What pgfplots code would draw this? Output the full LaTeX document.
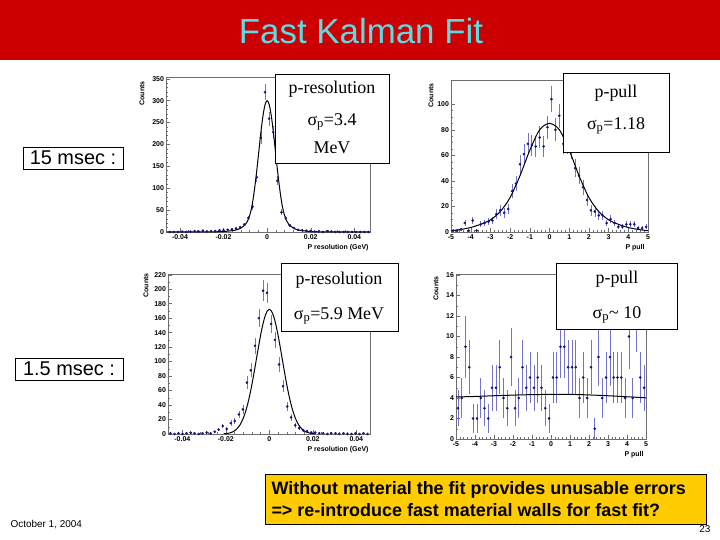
\documentclass[border=0pt]{standalone}
\usepackage{pgfplots}
\usepackage{pgfplotstable}
\pgfplotsset{compat=1.18}
\usepackage{fontspec}
\setmainfont{Liberation Serif}
\setsansfont{Liberation Sans}
\newfontfamily\arial{Liberation Sans}
\definecolor{titlered}{RGB}{204,0,0}
\definecolor{titlecyan}{RGB}{90,220,228}
\definecolor{boxyellow}{RGB}{255,204,0}
\definecolor{ptnavy}{RGB}{20,20,120}
\definecolor{errblue}{RGB}{115,115,205}
\definecolor{framegray}{RGB}{110,110,110}

\pgfplotsset{
 rootstyle/.style={
  scale only axis,
  axis line style={framegray, line width=0.6bp},
  tick style={framegray, line width=0.4bp},
  tick align=inside, major tick length=4bp, minor tick length=2bp,
  xtick pos=bottom, ytick pos=left,
  ticklabel style={font=\arial\bfseries\fontsize{7}{8}\selectfont, text=black},
  xticklabel style={yshift=1.2bp},
  yticklabel style={xshift=1.5bp},
  /pgf/number format/assume math mode=true,
  scaled x ticks=false, scaled y ticks=false,
  clip=false,
 },
 datastyle/.style={only marks, mark=*, mark size=1.1bp, color=ptnavy,
   error bars/.cd, y dir=both, y explicit,
   error bar style={errblue, line width=0.6bp}, error mark=none},
 fitstyle/.style={black, line width=1bp, no marks, smooth},
}

\pgfplotstableread{
x y
-0.0447 0
-0.0428 0
-0.0409 0
-0.0390 1
-0.0371 0
-0.0352 1
-0.0333 2
-0.0314 1
-0.0295 3
-0.0276 1
-0.0257 2
-0.0238 2
-0.0219 4
-0.0200 4
-0.0181 5
-0.0162 6
-0.0143 8
-0.0124 11
-0.0105 17
-0.0086 32
-0.0067 58
-0.0048 125
-0.0029 215
-0.0010 319
0.0009 259
0.0028 228
0.0047 117
0.0066 45
0.0085 32
0.0104 15
0.0123 9
0.0142 5
0.0161 4
0.0180 3
0.0199 2
0.0218 1
0.0237 1
0.0256 0
0.0275 2
0.0294 1
0.0313 0
0.0332 0
0.0351 0
0.0370 0
0.0389 0
0.0408 0
0.0427 0
0.0446 0
0.0465 0
}\resA

\pgfplotstableread{
x y
-0.046 0
-0.030 0.1
-0.025 0.3
-0.020 1
-0.018 2
-0.016 3
-0.014 5
-0.012 9
-0.010 17
-0.009 25
-0.008 38
-0.007 58
-0.006 90
-0.005 130
-0.004 175
-0.003 222
-0.002 262
-0.001 290
0.000 300
0.001 290
0.002 262
0.003 222
0.004 175
0.005 130
0.006 90
0.007 58
0.008 38
0.009 25
0.010 17
0.012 9
0.014 5
0.016 3
0.018 2
0.020 1
0.025 0.3
0.030 0.1
0.047 0
}\fitA

\pgfplotstableread{
x y
-4.9 1
-4.7 1
-4.5 2
-4.3 7
-4.1 1
-3.9 9
-3.7 1
-3.5 6
-3.3 7
-3.1 8
-2.9 9
-2.7 14
-2.5 17
-2.3 15
-2.1 18
-1.9 32
-1.7 38
-1.5 53
-1.3 61
-1.1 69
-0.9 68
-0.7 67
-0.5 74
-0.3 67
-0.1 82
0.1 104
0.3 80
0.5 91
0.7 69
0.9 69
1.1 65
1.3 50
1.5 44
1.7 35
1.9 25
2.1 17
2.3 16
2.5 13
2.7 13
2.9 7
3.1 10
3.3 7
3.5 4
3.7 4
3.9 6
4.1 6
4.3 6
4.5 3
4.7 3
4.9 4
}\pullA

\pgfplotstableread{
x y
-5.0 1
-4.5 2
-4.0 3.5
-3.5 6
-3.0 9.5
-2.5 16
-2.0 27
-1.5 44
-1.0 64
-0.5 80
0.0 85
0.5 80
1.0 64
1.5 44
2.0 27
2.5 16
3.0 9.5
3.5 6
4.0 3.5
4.5 2
5.0 1
}\fitB

\pgfplotstableread{
x y
-0.0455 1
-0.0436 0
-0.0418 1
-0.0399 0
-0.0381 1
-0.0362 2
-0.0344 1
-0.0325 0
-0.0307 1
-0.0288 2
-0.0270 1
-0.0251 3
-0.0233 6
-0.0214 11
-0.0196 7
-0.0177 15
-0.0159 18
-0.0140 27
-0.0122 34
-0.0103 71
-0.0085 88
-0.0066 122
-0.0048 160
-0.0029 198
-0.0011 195
0.0008 152
0.0026 130
0.0045 96
0.0063 66
0.0082 38
0.0100 23
0.0119 12
0.0137 8
0.0156 5
0.0174 4
0.0193 2
0.0211 2
0.0230 1
0.0248 1
0.0267 0
0.0285 1
0.0304 1
0.0322 0
0.0341 1
0.0359 0
0.0378 0
0.0396 1
0.0415 0
0.0433 1
0.0452 0
}\resB

\pgfplotstableread{
x y
-0.021 0.31
-0.020 0.55
-0.019 0.96
-0.018 1.64
-0.017 2.7
-0.016 4.35
-0.015 6.8
-0.014 10.3
-0.013 15.2
-0.012 21.7
-0.011 30.2
-0.010 40.9
-0.009 53.7
-0.008 68.6
-0.007 85.1
-0.006 102.6
-0.005 120.1
-0.004 136.7
-0.003 151.1
-0.002 162.4
-0.001 169.5
0.000 172
0.001 169.5
0.002 162.4
0.003 151.1
0.004 136.7
0.005 120.1
0.006 102.6
0.007 85.1
0.008 68.6
0.009 53.7
0.010 40.9
0.011 30.2
0.012 21.7
0.013 15.2
0.014 10.3
0.015 6.8
0.016 4.35
0.017 2.7
0.018 1.64
0.019 0.96
0.020 0.55
0.021 0.31
}\fitC

\pgfplotstableread{
x y
-4.9 3
-4.7 4
-4.5 9
-4.3 7
-4.1 2
-3.9 2
-3.7 4
-3.5 3
-3.3 2
-3.1 5
-2.9 5
-2.7 7
-2.5 4
-2.3 3
-2.1 8
-1.9 3
-1.7 4
-1.5 7
-1.3 5
-1.1 6
-0.9 5
-0.7 6
-0.5 5
-0.3 3
-0.1 2
0.1 6
0.3 6
0.5 9
0.7 9
0.9 7
1.1 7
1.3 7
1.5 4
1.7 6
1.9 4
2.1 7
2.3 1
2.5 8
2.7 4
2.9 6
3.1 8
3.3 6
3.5 6
3.7 6
3.9 4
4.1 10
4.3 4
4.5 12
4.7 6
4.9 5
}\pullB

\pgfplotstableread{
x y
-5 4.10
-4 4.15
-3 4.22
-2 4.28
-1 4.33
0 4.35
1 4.35
2 4.30
3 4.22
4 4.12
5 4.02
}\fitD

\begin{document}
\begin{tikzpicture}[x=1bp,y=1bp]
\path[use as bounding box] (0,0) rectangle (720,540);
\fill[white] (0,0) rectangle (720,540);
% title bar
\fill[titlered] (0,480) rectangle (720,540);
\node[text=titlecyan, font=\arial\fontsize{35}{40}\selectfont] at (361,509) {Fast Kalman Fit};

% panel 1
\begin{axis}[rootstyle, at={(166bp,308bp)}, anchor=south west, width=204bp, height=155bp,
  xmin=-0.0464, xmax=0.0472, ymin=0, ymax=354,
  xtick={-0.04,-0.02,0,0.02,0.04}, xticklabels={-0.04,-0.02,0,0.02,0.04},
  minor x tick num=4, ytick={0,50,...,350}, minor y tick num=4]
\addplot[datastyle] table[x=x, y=y, y error expr={sqrt(\thisrow{y})}] {\resA};
\addplot[fitstyle] table[x=x, y=y] {\fitA};
\end{axis}

% panel 2
\begin{axis}[rootstyle, at={(451bp,308bp)}, anchor=south west, width=197bp, height=152bp,
  xmin=-5, xmax=5, ymin=0, ymax=119,
  xtick={-5,...,5}, minor x tick num=4, ytick={0,20,...,100}, minor y tick num=3]
\addplot[datastyle] table[x=x, y=y, y error expr={sqrt(\thisrow{y})}] {\pullA};
\addplot[fitstyle] table[x=x, y=y] {\fitB};
\end{axis}

% panel 3
\begin{axis}[rootstyle, at={(168bp,106bp)}, anchor=south west, width=202bp, height=160bp,
  xmin=-0.0466, xmax=0.0463, ymin=0, ymax=221,
  xtick={-0.04,-0.02,0,0.02,0.04}, xticklabels={-0.04,-0.02,0,0.02,0.04},
  minor x tick num=4, ytick={0,20,...,220}, minor y tick num=1]
\addplot[datastyle] table[x=x, y=y, y error expr={sqrt(\thisrow{y})}] {\resB};
\addplot[fitstyle] table[x=x, y=y] {\fitC};
\end{axis}

% panel 4
\begin{axis}[rootstyle, at={(456bp,101bp)}, anchor=south west, width=190bp, height=165bp,
  xmin=-5, xmax=5, ymin=0, ymax=16.1,
  xtick={-5,...,5}, minor x tick num=4, ytick={0,2,...,16}, minor y tick num=1]
\addplot[datastyle] table[x=x, y=y, y error expr={sqrt(\thisrow{y})}] {\pullB};
\addplot[fitstyle] table[x=x, y=y] {\fitD};
\end{axis}

% axis titles
\begin{scope}[font=\arial\bfseries\fontsize{7}{8}\selectfont]
\node[rotate=90, anchor=east] at (142,462) {Counts};
\node[rotate=90, anchor=east] at (431,460) {Counts};
\node[rotate=90, anchor=east] at (146,270) {Counts};
\node[rotate=90, anchor=east] at (436,267) {Counts};
\node[anchor=east] at (372,292.5) {P resolution (GeV)};
\node[anchor=east] at (648,292.5) {P pull};
\node[anchor=east] at (372,90) {P resolution (GeV)};
\node[anchor=east] at (647,85) {P pull};
\end{scope}

% info boxes
\begin{scope}[font=\fontsize{18}{20}\selectfont]
\filldraw[fill=white, draw=black, line width=0.8bp] (275,466) rectangle (389,377);
\node at (332,451) {p-resolution};
\node at (332,418) {σ\textsubscript{p}=3.4};
\node at (332,392) {MeV};
\filldraw[fill=white, draw=black, line width=0.8bp] (563,467) rectangle (669,388);
\node at (616,447) {p-pull};
\node at (616,414) {σ\textsubscript{p}=1.18};
\filldraw[fill=white, draw=black, line width=0.8bp] (281,277) rectangle (398,209);
\node at (339,260) {p-resolution};
\node at (339,224) {σ\textsubscript{p}=5.9 MeV};
\filldraw[fill=white, draw=black, line width=0.8bp] (556,277) rectangle (677,211);
\node at (617,261) {p-pull};
\node at (617,225) {σ\textsubscript{p}\textasciitilde{} 10};
\end{scope}

% left labels
\begin{scope}[font=\arial\fontsize{20}{22}\selectfont]
\draw[black, line width=0.5bp] (23,393) rectangle (123,371);
\node at (73,382) {15 msec :};
\draw[black, line width=0.5bp] (15,182) rectangle (123,160);
\node at (69,171) {1.5 msec :};
\end{scope}

% bottom
\filldraw[fill=boxyellow, draw=black, line width=0.6bp] (265,66) rectangle (706,16);
\node[anchor=west, font=\arial\bfseries\fontsize{18}{22}\selectfont, align=left] at (268,41)
  {Without material the fit provides unusable errors\\=> re-introduce fast material walls for fast fit?};
\node[anchor=west, font=\arial\fontsize{10}{12}\selectfont] at (7,15) {October 1, 2004};
\node[anchor=east, font=\arial\fontsize{10}{12}\selectfont] at (714,11) {23};
\end{tikzpicture}
\end{document}
